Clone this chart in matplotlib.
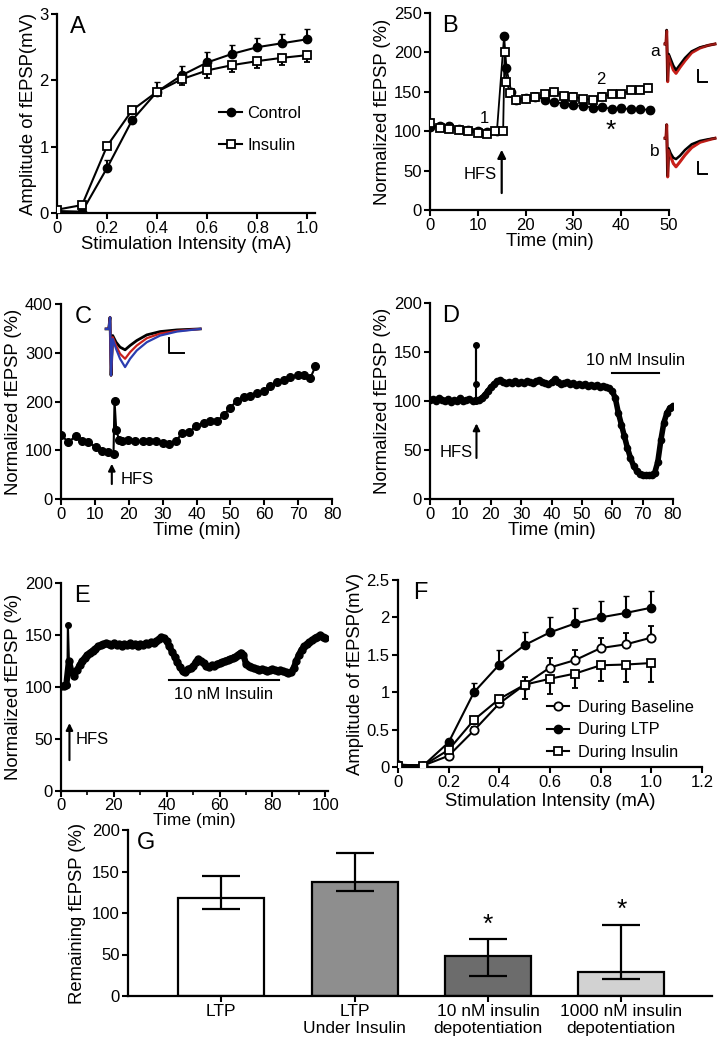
import numpy as np
import matplotlib
matplotlib.use("Agg")
import matplotlib.pyplot as plt

plt.rcParams['font.family'] = ['Liberation Sans', 'DejaVu Sans']
plt.rcParams['font.size'] = 12

# ---------------- data ----------------
# A: input/output curves
stim_a = [0, 0.1, 0.2, 0.3, 0.4, 0.5, 0.6, 0.7, 0.8, 0.9, 1.0]
a_control = [0.03, 0.02, 0.68, 1.40, 1.83, 2.08, 2.27, 2.40, 2.50, 2.56, 2.62]
a_control_err = [0, 0, 0.12, 0.05, 0.14, 0.14, 0.15, 0.13, 0.14, 0.14, 0.15]
a_insulin = [0.05, 0.12, 1.01, 1.55, 1.83, 2.02, 2.15, 2.23, 2.29, 2.34, 2.38]
a_insulin_err = [0, 0, 0.05, 0.05, 0.06, 0.09, 0.12, 0.11, 0.10, 0.11, 0.11]

# B: LTP time course
b_time = [0, 2, 4, 6, 8, 10, 12, 14, 15.5, 16, 17, 18, 20, 22, 24, 26, 28, 30,
          32, 34, 36, 38, 40, 42, 44, 46]
b_control = [105, 106, 107, 103, 101, 100, 99, 100, 221, 180, 150, 140, 142, 144,
             140, 137, 135, 133, 132, 130, 131, 128, 129, 128, 128, 127]
b_sq_time = [0, 2, 4, 6, 8, 10, 12, 13.6, 15.3, 15.6, 16, 16.8, 18, 20, 22, 24,
             26, 28, 30, 32, 34, 36, 38, 40, 42, 44, 45.7]
b_insulin = [110, 104, 103, 102, 100, 98, 97, 100, 100, 200, 163, 148, 140, 141,
             144, 147, 150, 145, 144, 141, 140, 144, 147, 147, 152, 152, 155]

# B inset traces (a, b)
tr_b_x = [45, 48, 50, 53, 56, 62, 70, 78, 90, 105, 125, 150, 175, 195]
tr_a_black = [0, 0, 42, -110, -30, -45, -65, -78, -62, -42, -22, -10, -4, 0]
tr_a_red = [0, 0, 40, -113, -35, -55, -78, -88, -70, -50, -26, -12, -4, 0]
tr_b_black = [0, 0, 40, -112, -30, -45, -58, -62, -52, -35, -18, -8, -3, 0]
tr_b_red = [0, 0, 40, -115, -35, -55, -75, -85, -70, -50, -28, -12, -5, 0]

# C: single experiment
c_time = [0, 2.2, 4.4, 6.1, 8.1, 10.2, 12, 14, 15.5, 15.8, 16.3, 17.1, 18.1, 19.9,
          21.9, 24.1, 26.1, 28.1, 30.2, 32, 33.9, 35.7, 37.8, 39.9, 42.1, 44, 46,
          48, 50, 51.9, 53.9, 55.9, 57.8, 59.8, 61.8, 63.7, 65.7, 67.7, 69.9, 71.6,
          73.6, 75.1]
c_val = [132, 116, 130, 120, 116, 107, 98, 96, 93, 202, 142, 122, 118, 122, 118,
         118, 120, 118, 115, 113, 118, 135, 137, 150, 155, 161, 159, 173, 187, 202,
         209, 211, 217, 222, 231, 239, 245, 250, 254, 255, 248, 272]
tr_c_x = [318, 326, 330, 333, 338, 348, 360, 375, 390, 410, 440, 480, 530, 600]
tr_c_black = [0, 0, 35, -140, -20, -40, -55, -63, -50, -35, -18, -8, -3, 0]
tr_c_red = [0, 0, 35, -140, -25, -50, -75, -90, -70, -50, -28, -14, -6, 0]
tr_c_blue = [0, 0, 35, -140, -30, -60, -90, -115, -90, -65, -40, -20, -8, 0]

# D: per-minute values (HFS spike kept separately)
d_val = [101, 102, 100, 103, 101, 100, 102, 99, 101, 100, 103, 100, 101, 102, 100,
         101, 101, 103, 106, 110, 114, 117, 120, 121, 119, 118, 119, 118, 120, 118,
         119, 118, 120, 119, 118, 120, 121, 119, 118, 117, 119, 122, 119, 117, 118,
         119, 117, 118, 116, 117, 116, 117, 115, 116, 115, 116, 114, 115, 114, 113,
         110, 103, 88, 76, 64, 52, 42, 34, 29, 26, 25, 24, 24, 25, 27, 38, 60, 78,
         88, 93, 95]
d_spike_t = [15.3, 15.3, 15.3]
d_spike_v = [100, 157, 117]

# E: per-minute values (HFS spike kept separately)
e_val = [101, 101, 102, 125, 114, 111, 116, 121, 125, 128, 131, 133, 135, 137, 139,
         140, 141, 142, 141, 140, 142, 140, 141, 139, 141, 140, 142, 140, 141, 139,
         141, 140, 142, 141, 143, 142, 144, 146, 148, 147, 144, 139, 134, 129, 124,
         119, 115, 114, 117, 118, 120, 124, 127, 125, 123, 120, 119, 121, 120, 122,
         123, 124, 125, 126, 127, 128, 129, 131, 133, 131, 122, 120, 119, 118, 117,
         116, 117, 116, 115, 116, 117, 116, 115, 116, 115, 114, 113, 114, 118, 125,
         131, 136, 139, 141, 143, 145, 147, 148, 150, 148, 147]
e_spike_t = [2.4, 2.6, 3.0]
e_spike_v = [102, 160, 125]

# F: input/output during phases
stim_f = [0, 0.1, 0.2, 0.3, 0.4, 0.5, 0.6, 0.7, 0.8, 0.9, 1.0]
f_base = [0.03, 0.02, 0.15, 0.49, 0.85, 1.10, 1.33, 1.43, 1.59, 1.64, 1.73]
f_base_err = [0, 0, 0.03, 0.04, 0.08, 0.10, 0.13, 0.14, 0.14, 0.15, 0.16]
f_ltp = [0.03, 0.02, 0.33, 1.00, 1.37, 1.63, 1.80, 1.92, 2.00, 2.06, 2.13]
f_ltp_err = [0, 0, 0.04, 0.12, 0.19, 0.18, 0.20, 0.21, 0.22, 0.22, 0.22]
f_ins = [0.02, 0.02, 0.23, 0.63, 0.91, 1.10, 1.18, 1.25, 1.36, 1.37, 1.39]
f_ins_err = [0, 0, 0.03, 0.05, 0.06, 0.19, 0.20, 0.20, 0.21, 0.24, 0.25]

# G: summary bars
g_labels = ['LTP', 'LTP\nUnder Insulin', '10 nM insulin\ndepotentiation',
            '1000 nM insulin\ndepotentiation']
g_mean = [118, 137, 48, 29]
g_err_up = [26, 35, 21, 57]
g_err_low = [13, 10, 24, 9]
g_colors = ['white', '#8e8e8e', '#6c6c6c', '#d2d2d2']
g_star = [None, None, 86, 104]

W, H = 725, 1050
LAB = 13.3
TICK = 12
fig = plt.figure(figsize=(W / 100, H / 100), dpi=100)


def px_axes(left, top, right, bottom):
    return fig.add_axes([left / W, 1 - bottom / H, (right - left) / W, (bottom - top) / H])


def style(ax):
    for s in ['top', 'right']:
        ax.spines[s].set_visible(False)
    for s in ['left', 'bottom']:
        ax.spines[s].set_linewidth(1.6)
    ax.tick_params(direction='out', length=4, width=1.5, labelsize=TICK, pad=2)
    ax.tick_params(which='minor', direction='out', length=3, width=1.2)
    ax.set_facecolor('none')


def letter(ax, s):
    ax.text(0.05, 0.99, s, transform=ax.transAxes, fontsize=17, va='top', ha='left')


def trace_axes(left, top, right, bottom, xlim, ylim):
    t = px_axes(left, top, right, bottom)
    t.set_xlim(*xlim)
    t.set_ylim(*ylim)
    t.axis('off')
    return t


# ---------------- A ----------------
ax = px_axes(57, 14, 315, 213)
style(ax)
ax.errorbar(stim_a, a_control, yerr=[[0] * 11, a_control_err], color='black', marker='o',
            ms=6, lw=1.5, capsize=2.5, elinewidth=1.5, label='Control', zorder=3)
ax.errorbar(stim_a, a_insulin, yerr=[a_insulin_err, [0] * 11], color='black', marker='s',
            mfc='white', ms=6, mew=1.3, lw=1.5, capsize=2.5, elinewidth=1.5,
            label='Insulin', zorder=4)
ax.set_xlim(0, 1.03)
ax.set_ylim(0, 3)
ax.set_xticks([0, 0.2, 0.4, 0.6, 0.8, 1.0])
ax.set_xticklabels(['0', '0.2', '0.4', '0.6', '0.8', '1.0'])
ax.set_yticks([0, 1, 2, 3])
ax.set_xlabel('Stimulation Intensity (mA)', fontsize=LAB, labelpad=0)
ax.set_ylabel('Amplitude of fEPSP(mV)', fontsize=LAB, labelpad=2)
h, l = ax.get_legend_handles_labels()
h = [x[0] for x in h]
ax.legend(h, l, loc='center left', bbox_to_anchor=(0.57, 0.42), frameon=False,
          fontsize=12, handlelength=1.4, handletextpad=0.3, labelspacing=1.0)
letter(ax, 'A')

# ---------------- B ----------------
ax = px_axes(430, 13, 669, 210)
style(ax)
ax.errorbar(b_time, b_control, yerr=4, color='black', marker='o', ms=6, lw=1.3,
            capsize=2, elinewidth=1.2, zorder=3)
ax.errorbar(b_sq_time, b_insulin, yerr=4, color='black', marker='s', mfc='white',
            ms=6, mew=1.3, lw=1.3, capsize=2, elinewidth=1.2, zorder=4)
ax.set_xlim(0, 50)
ax.set_ylim(0, 250)
ax.set_xticks(range(0, 51, 10))
ax.set_yticks(range(0, 251, 50))
ax.set_xlabel('Time (min)', fontsize=LAB, labelpad=0)
ax.set_ylabel('Normalized fEPSP (%)', fontsize=LAB, labelpad=2)
ax.annotate('', xy=(15.0, 80), xytext=(15.0, 18),
            arrowprops=dict(arrowstyle='-|>', color='black', lw=1.6, mutation_scale=12))
ax.text(14.0, 45, 'HFS', ha='right', va='center', fontsize=12)
ax.text(11.4, 116, '1', ha='center', va='center', fontsize=12)
ax.text(35.7, 166, '2', ha='center', va='center', fontsize=12)
ax.text(37.8, 100, '*', ha='center', va='center', fontsize=19)
letter(ax, 'B')

ta = trace_axes(650, 20, 725, 90, (0, 225), (-138, 72))
ta.plot(tr_b_x, tr_a_red, color='#c8201a', lw=2.2)
ta.plot(tr_b_x, tr_a_black, color='black', lw=1.8)
ta.plot(tr_b_x, tr_a_red, color='#c8201a', lw=1.4, alpha=0.8)
ta.plot([145, 145, 172], [-78, -113, -113], color='black', lw=1.4)
tb = trace_axes(650, 113, 725, 187, (0, 225), (-145, 75))
tb.plot(tr_b_x, tr_b_red, color='#c8201a', lw=2.2)
tb.plot(tr_b_x, tr_b_black, color='black', lw=1.8)
tb.plot(tr_b_x, tr_b_red, color='#c8201a', lw=1.4, alpha=0.8)
tb.plot([145, 145, 172], [-70, -105, -105], color='black', lw=1.4)
fig.text(655 / W, 1 - 52 / H, 'a', fontsize=12.5, ha='center', va='center')
fig.text(655 / W, 1 - 152 / H, 'b', fontsize=12.5, ha='center', va='center')

# ---------------- C ----------------
ax = px_axes(61, 304, 332, 499)
style(ax)
ax.plot(c_time, c_val, color='black', marker='o', ms=5.5, lw=1.5)
ax.set_xlim(0, 80)
ax.set_ylim(0, 400)
ax.set_xticks(range(0, 81, 10))
ax.set_yticks(range(0, 401, 100))
ax.set_xlabel('Time (min)', fontsize=LAB, labelpad=0)
ax.set_ylabel('Normalized fEPSP (%)', fontsize=LAB, labelpad=2)
ax.annotate('', xy=(15.0, 78), xytext=(15.0, 25),
            arrowprops=dict(arrowstyle='-|>', color='black', lw=1.5, mutation_scale=10))
ax.text(17.5, 40, 'HFS', ha='left', va='center', fontsize=12)
letter(ax, 'C')

tc = trace_axes(100, 310, 207, 383, (300, 620), (-163, 57))
tc.plot(tr_c_x, tr_c_black, color='black', lw=2.0)
tc.plot(tr_c_x, tr_c_red, color='#c8201a', lw=1.6)
tc.plot(tr_c_x, tr_c_blue, color='#2a3db0', lw=1.6)
tc.plot([505, 505, 550], [-28, -73, -73], color='black', lw=1.4)

# ---------------- D ----------------
ax = px_axes(430, 303, 673, 499)
style(ax)
d_time = np.arange(len(d_val))
ax.plot(d_time, d_val, color='black', marker='o', ms=4.5, lw=4)
ax.plot(d_spike_t, d_spike_v, color='black', marker='o', ms=4, lw=1.5)
ax.set_xlim(0, 80)
ax.set_ylim(0, 200)
ax.set_xticks(range(0, 81, 10))
ax.set_yticks(range(0, 201, 50))
ax.set_xlabel('Time (min)', fontsize=LAB, labelpad=0)
ax.set_ylabel('Normalized fEPSP (%)', fontsize=LAB, labelpad=2)
ax.annotate('', xy=(15.3, 80), xytext=(15.3, 39),
            arrowprops=dict(arrowstyle='-|>', color='black', lw=1.5, mutation_scale=10))
ax.text(14.0, 47, 'HFS', ha='right', va='center', fontsize=12)
ax.plot([60, 75.3], [129, 129], color='black', lw=1.5)
ax.text(67.6, 141, '10 nM Insulin', ha='center', va='center', fontsize=12)
letter(ax, 'D')

# ---------------- E ----------------
ax = px_axes(61, 583, 328, 791)
style(ax)
e_time = np.arange(len(e_val))
ax.plot(e_time, e_val, color='black', marker='o', ms=5, lw=4.5)
ax.plot(e_spike_t, e_spike_v, color='black', marker='o', ms=4, lw=1.5)
ax.set_xlim(0, 101)
ax.set_ylim(0, 200)
ax.set_xticks(range(0, 101, 20))
ax.set_xticks(range(10, 100, 20), minor=True)
ax.set_yticks(range(0, 201, 50))
ax.tick_params(axis='x', pad=1)
ax.set_xlabel('Time (min)', fontsize=12.5, labelpad=0)
ax.set_ylabel('Normalized fEPSP (%)', fontsize=LAB, labelpad=2)
ax.annotate('', xy=(3.2, 68), xytext=(3.2, 27),
            arrowprops=dict(arrowstyle='-|>', color='black', lw=1.5, mutation_scale=10))
ax.text(5.5, 50, 'HFS', ha='left', va='center', fontsize=12)
ax.plot([40.7, 82.5], [107, 107], color='black', lw=1.5)
ax.text(61.5, 93, '10 nM Insulin', ha='center', va='center', fontsize=12)
letter(ax, 'E')

# ---------------- F ----------------
ax = px_axes(398, 580, 702, 767)
style(ax)
ax.errorbar(stim_f, f_ltp, yerr=[[0] * 11, f_ltp_err], color='black', marker='o', ms=6,
            lw=1.5, capsize=2.5, elinewidth=1.5, label='During LTP', zorder=3)
ax.errorbar(stim_f, f_base, yerr=[[0] * 11, f_base_err], color='black', marker='o',
            mfc='white', ms=6, mew=1.3, lw=1.5, capsize=2.5, elinewidth=1.5,
            label='During Baseline', zorder=4)
ax.errorbar(stim_f, f_ins, yerr=[f_ins_err, [0] * 11], color='black', marker='s',
            mfc='white', ms=6, mew=1.3, lw=1.5, capsize=2.5, elinewidth=1.5,
            label='During Insulin', zorder=5)
ax.set_xlim(0, 1.2)
ax.set_ylim(0, 2.5)
ax.set_xticks([0, 0.2, 0.4, 0.6, 0.8, 1.0, 1.2])
ax.set_xticklabels(['0', '0.2', '0.4', '0.6', '0.8', '1.0', '1.2'])
ax.set_yticks([0, 0.5, 1, 1.5, 2, 2.5])
ax.set_yticklabels(['0', '0.5', '1', '1.5', '2', '2.5'])
ax.set_xlabel('Stimulation Intensity (mA)', fontsize=LAB, labelpad=2)
ax.set_ylabel('Amplitude of fEPSP(mV)', fontsize=LAB, labelpad=2)
h, l = ax.get_legend_handles_labels()
order = [1, 0, 2]
ax.legend([h[i][0] for i in order], [l[i] for i in order], loc='lower left',
          bbox_to_anchor=(0.44, -0.04), frameon=False, fontsize=11.8, handlelength=1.4,
          handletextpad=0.5, labelspacing=0.45)
letter(ax, 'F')

# ---------------- G ----------------
ax = px_axes(128, 830, 712, 996)
style(ax)
xpos = np.arange(len(g_mean))
ax.bar(xpos, g_mean, width=0.645, color=g_colors, edgecolor='black', linewidth=1.6,
       zorder=2)
ax.errorbar(xpos, g_mean, yerr=[g_err_low, g_err_up], fmt='none', ecolor='black',
            elinewidth=1.6, capsize=14, capthick=1.6, zorder=3)
for x, s in zip(xpos, g_star):
    if s is not None:
        ax.text(x, s, '*', ha='center', va='center', fontsize=19)
ax.set_xlim(-0.70, 3.68)
ax.set_ylim(0, 200)
ax.set_yticks(range(0, 201, 50))
ax.set_xticks(xpos)
ax.set_xticklabels(g_labels, family=['Liberation Sans Narrow', 'Liberation Sans'],
                   fontsize=12.5, linespacing=1.1)
ax.set_ylabel('Remaining fEPSP (%)', fontsize=LAB, labelpad=4)
ax.text(0.015, 0.99, 'G', transform=ax.transAxes, fontsize=17, va='top', ha='left')

fig.savefig('out.png', dpi=100)
